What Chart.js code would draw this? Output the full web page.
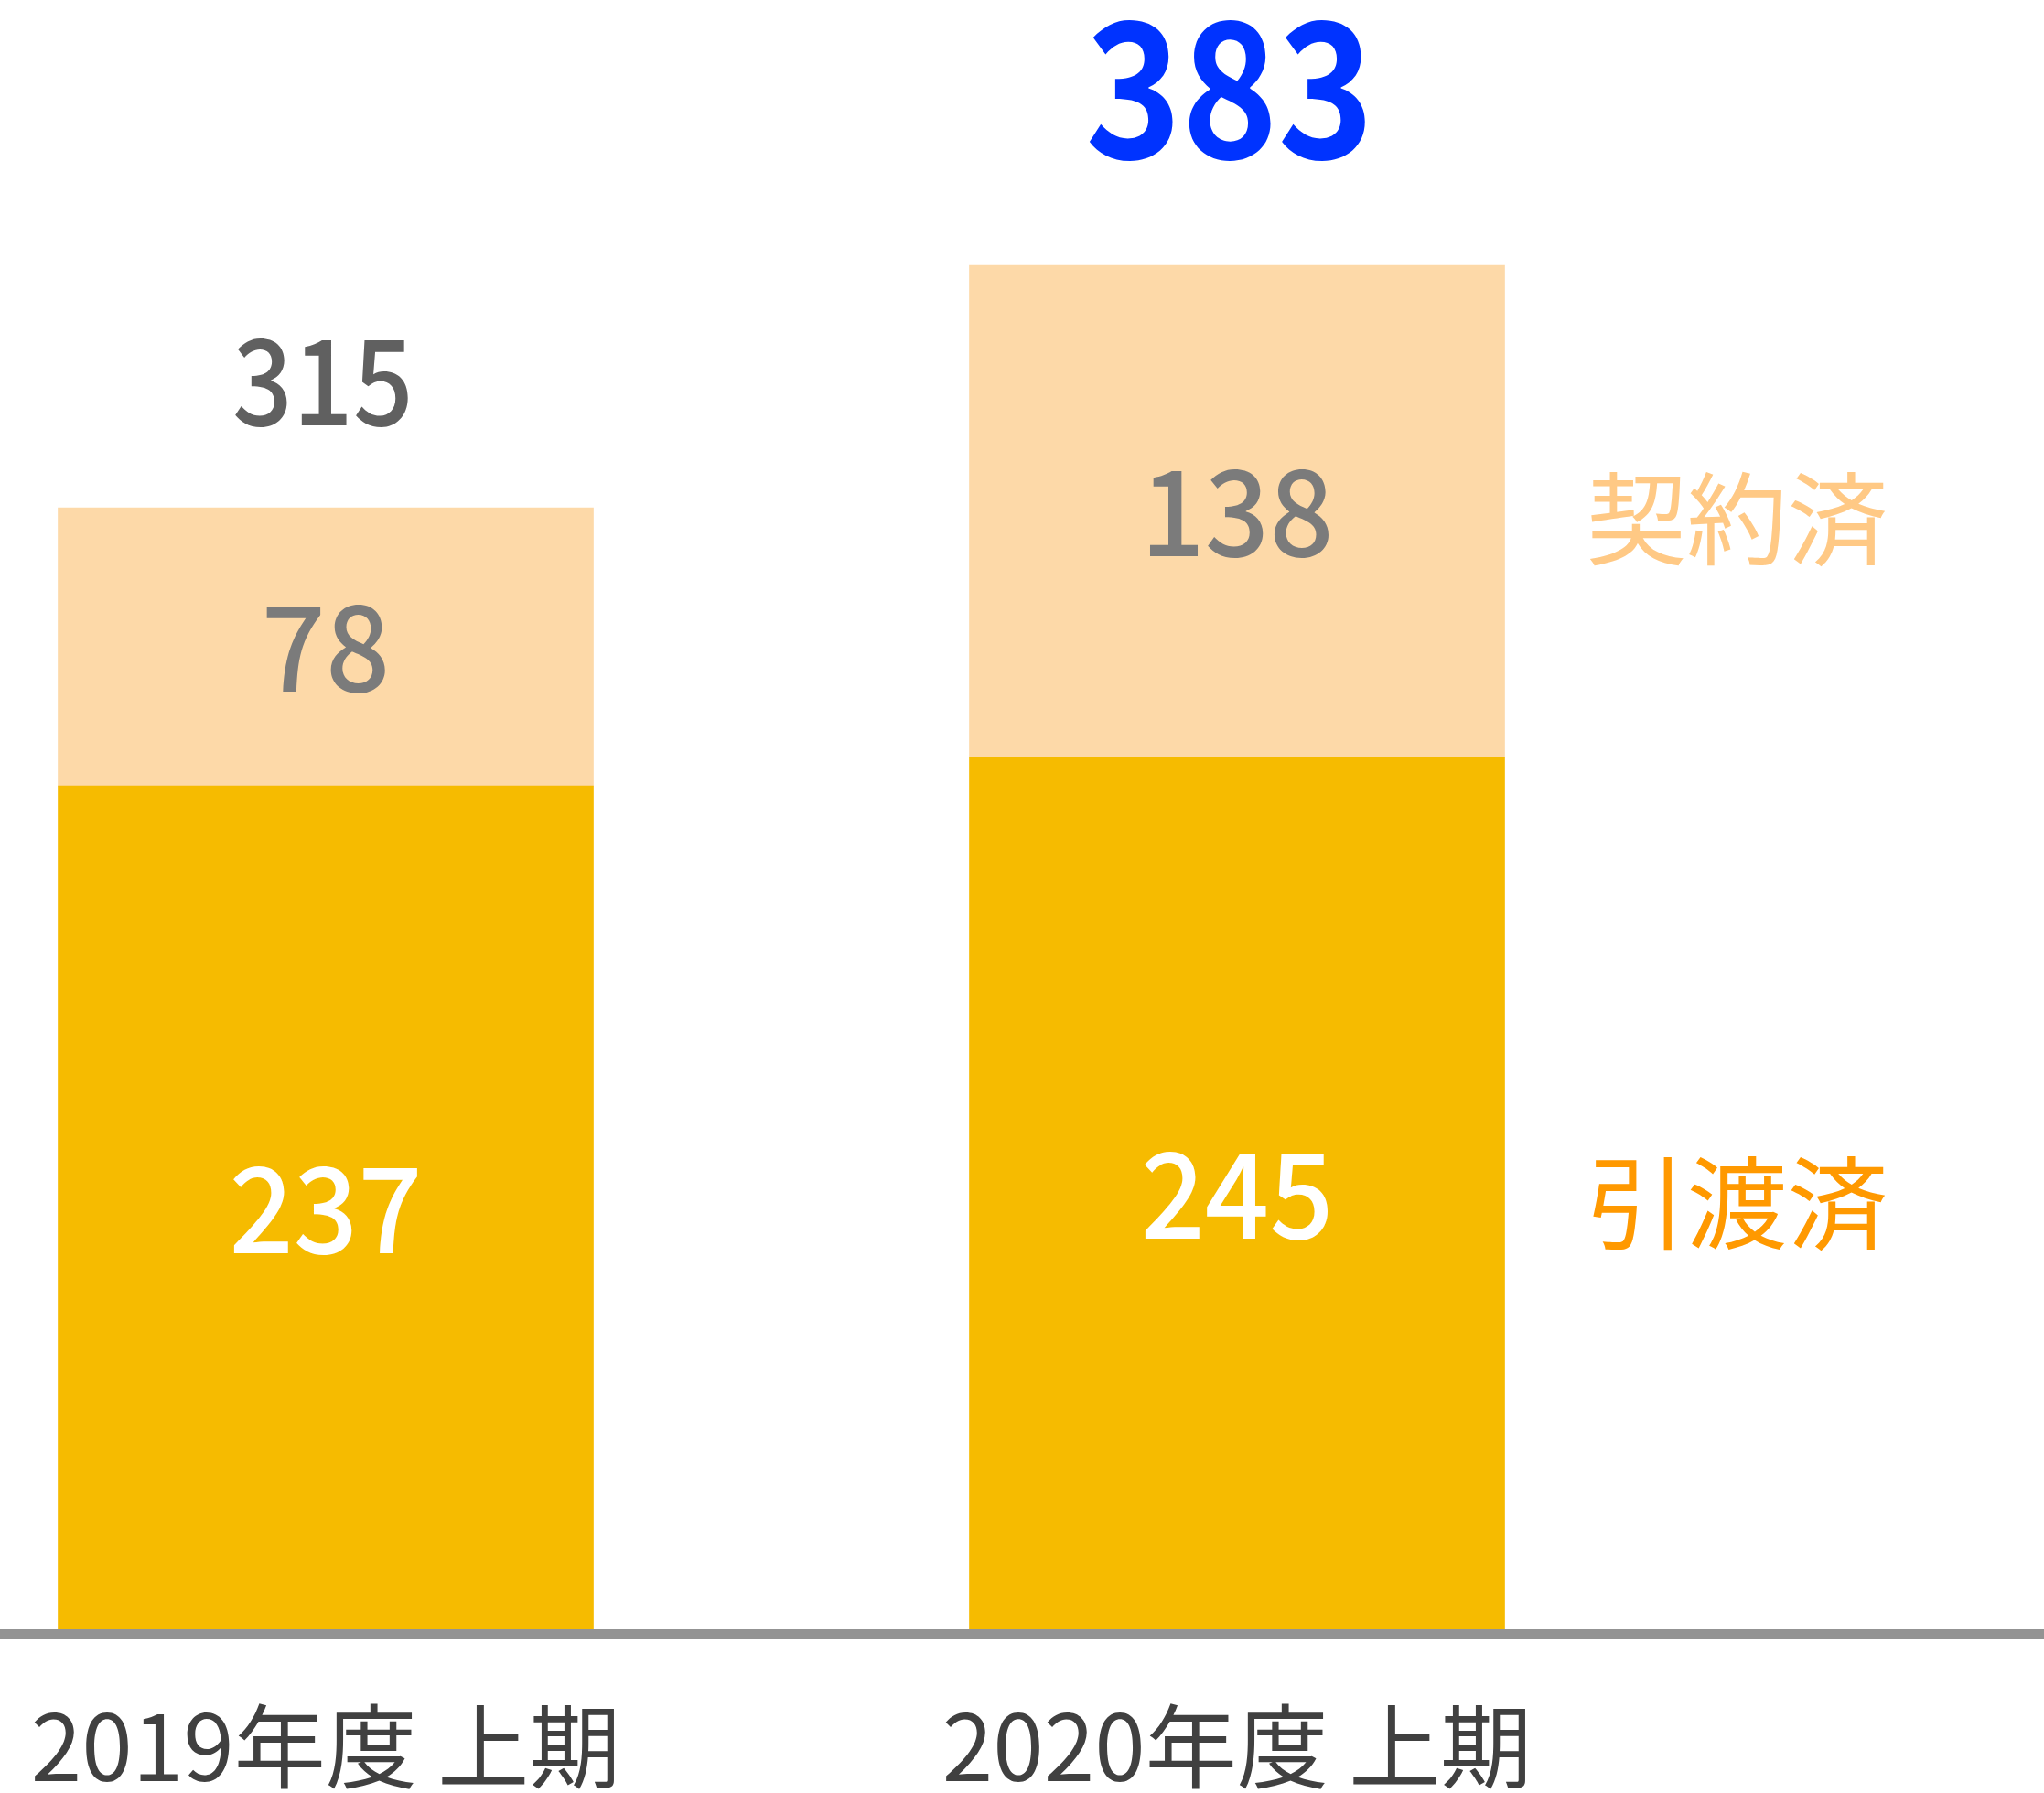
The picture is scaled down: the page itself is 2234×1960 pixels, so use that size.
<!DOCTYPE html>
<html>
<head>
<meta charset="utf-8">
<script src="https://cdn.jsdelivr.net/npm/chart.js@4"></script>
<style>
  html, body { margin: 0; padding: 0; background: #fff; }
  canvas { display: block; }
</style>
</head>
<body>
<canvas id="chart" width="2234" height="1960"></canvas>
<script>
// --- Data ---
const categories = ['2019年度 上期', '2020年度 上期'];
const delivered = [237, 245];   // 引渡済
const contracted = [78, 138];   // 契約済
const seriesNames = ['引渡済', '契約済'];

// --- Style ---
const COLORS = {
    delivered: '#F6BB00',
    contracted: '#FDD9A8',
    deliveredText: '#FF9900',
    contractedText: '#FFC985',
    axis: '#939393',
    category: '#404040',
    segInner: ['#FFFFFF', '#7B7B7B'],
    total: ['#606060', '#0033FF']
};
const FONT = '"Noto Sans CJK JP", "Noto Sans", sans-serif';

// draw text squeezed horizontally (reference digits are narrower)
function squeezedText(ctx, text, x, y, sx) {
    ctx.save();
    ctx.translate(x, y);
    ctx.scale(sx, 1);
    ctx.fillText(text, 0, 0);
    ctx.restore();
}

// --- Label drawing ---
const labelPlugin = {
    id: 'labels',
    afterDatasetsDraw(chart) {
        const ctx = chart.ctx;
        const yScale = chart.scales.y;
        const y0 = yScale.getPixelForValue(0);
        const lower = chart.getDatasetMeta(0).data;
        const upper = chart.getDatasetMeta(1).data;

        ctx.save();

        // Baseline across the whole width
        ctx.strokeStyle = COLORS.axis;
        ctx.lineWidth = 11;
        ctx.beginPath();
        ctx.moveTo(0, y0 + 3.5);
        ctx.lineTo(chart.width, y0 + 3.5);
        ctx.stroke();

        ctx.textAlign = 'center';
        ctx.textBaseline = 'alphabetic';

        // Segment values
        [lower, upper].forEach((bars, i) => {
            const vals = i === 0 ? delivered : contracted;
            bars.forEach((el, j) => {
                const mid = (el.y + el.base) / 2;
                ctx.fillStyle = COLORS.segInner[i];
                ctx.font = `500 130px ${FONT}`;
                squeezedText(ctx, String(vals[j]), el.x, mid + 49, 0.95);
            });
        });

        // Totals
        upper.forEach((el, j) => {
            const total = delivered[j] + contracted[j];
            if (j === 0) {
                ctx.font = `500 130px ${FONT}`;
                ctx.fillStyle = COLORS.total[0];
                squeezedText(ctx, String(total), el.x - 3, el.y - 90, 0.89);
            } else {
                ctx.font = `600 205px ${FONT}`;
                ctx.fillStyle = COLORS.total[1];
                squeezedText(ctx, String(total), el.x - 8, el.y - 117, 0.87);
            }
        });

        // Category labels
        ctx.font = `400 100px ${FONT}`;
        ctx.fillStyle = COLORS.category;
        lower.forEach((el, j) => {
            ctx.fillText(categories[j], el.x, y0 + 164);
        });

        // Series names beside the last bar
        const last = lower.length - 1;
        ctx.textAlign = 'left';
        ctx.textBaseline = 'middle';
        ctx.font = `400 110px ${FONT}`;
        const lx = lower[last].x + lower[last].width / 2 + 89;
        ctx.fillStyle = COLORS.deliveredText;
        ctx.fillText(seriesNames[0], lx, (lower[last].y + lower[last].base) / 2 + 10);
        ctx.fillStyle = COLORS.contractedText;
        ctx.fillText(seriesNames[1], lx, (upper[last].y + upper[last].base) / 2 + 8);

        ctx.restore();
    }
};

// --- Chart ---
new Chart(document.getElementById('chart'), {
    type: 'bar',
    data: {
        labels: categories,
        datasets: [
            {
                label: seriesNames[0],
                data: delivered,
                backgroundColor: COLORS.delivered,
                barThickness: 585,
                clip: false
            },
            {
                label: seriesNames[1],
                data: contracted,
                backgroundColor: COLORS.contracted,
                barThickness: 585,
                clip: false
            }
        ]
    },
    options: {
        responsive: false,
        animation: false,
        layout: { padding: { left: 356, right: 882, top: 0, bottom: 177 } },
        plugins: {
            legend: { display: false },
            tooltip: { enabled: false }
        },
        scales: {
            x: { stacked: true, display: false, offset: false },
            y: { stacked: true, display: false, min: 0, max: 457.4 }
        }
    },
    plugins: [labelPlugin]
});
</script>
</body>
</html>
